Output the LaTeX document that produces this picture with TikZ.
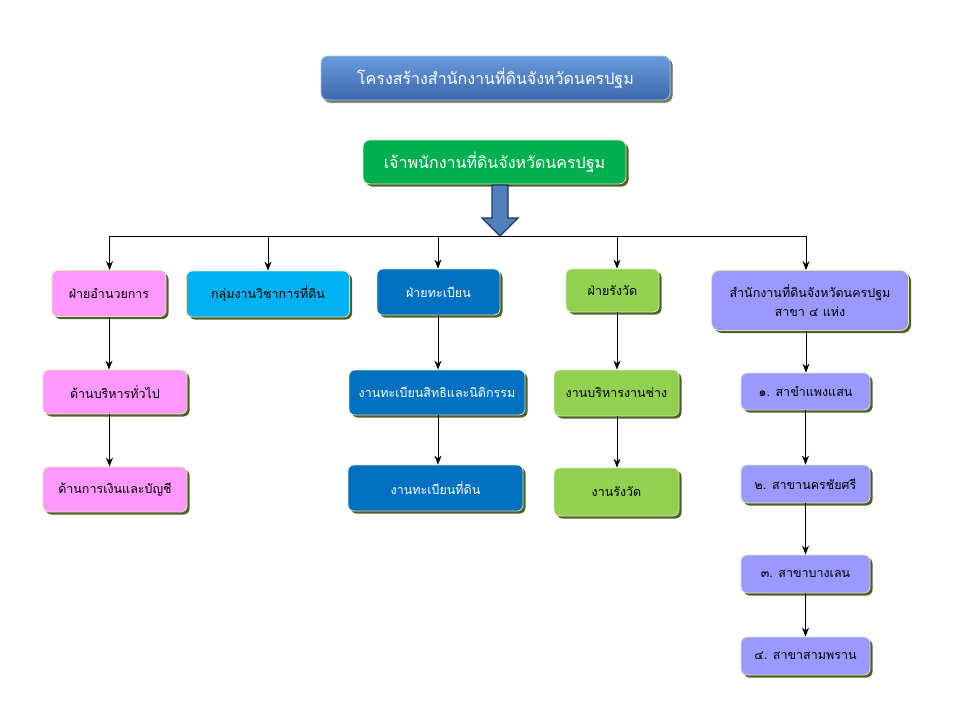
\documentclass[tikz,border=0pt]{standalone}
\usepackage{fontspec}
\usepackage{tikz}
\usetikzlibrary{arrows.meta, positioning, shadows}
\newfontfamily\thaifont[Script=Thai]{Loma}

\definecolor{titletop}{HTML}{6A9BDB}
\definecolor{titlebot}{HTML}{3A69AD}
\definecolor{headgreen}{HTML}{00B050}
\definecolor{pinkbox}{HTML}{FF99FF}
\definecolor{cyanbox}{HTML}{00B0F0}
\definecolor{bluebox}{HTML}{0070C0}
\definecolor{limebox}{HTML}{92D050}
\definecolor{lavbox}{HTML}{9999FF}
\definecolor{boxedge}{HTML}{D8E4BC}
\definecolor{shadowolive}{HTML}{4F6228}
\definecolor{arrowblue}{HTML}{4F81BD}
\definecolor{arrowedge}{HTML}{1F3A60}

\tikzset{
	box/.style={draw=boxedge, line width=0.8pt, rounded corners=6pt,
		align=center, inner sep=2pt,
		font=\thaifont\fontsize{12.5}{19}\selectfont,
		drop shadow={fill=shadowolive, shadow xshift=2.5pt, shadow yshift=-2.5pt, opacity=1}},
	headbox/.style={box, rounded corners=7pt, text=white,
		font=\thaifont\fontsize{16}{20}\selectfont},
	link/.style={->, >={Stealth[length=9pt, width=7pt]}, line width=1pt, black}
}

\begin{document}
\begin{tikzpicture}[x=1pt, y=-1pt]
	\useasboundingbox[fill=white] (0,0) rectangle (960,720);
	% heading
	\node at (495.5,78) (title) [headbox, minimum width=349pt, minimum height=44pt,
		top color=titletop, bottom color=titlebot, draw=titletop!60!white,
		drop shadow={fill=black!45, shadow xshift=2pt, shadow yshift=-3pt, opacity=0.6}] {โครงสร้างสำนักงานที่ดินจังหวัดนครปฐม};
	\node at (494.5,162) (chief) [headbox, fill=headgreen, minimum width=263pt, minimum height=44pt] {เจ้าพนักงานที่ดินจังหวัดนครปฐม};
	% first row
	\node at (109,293.5) (admin) [box, fill=pinkbox, minimum width=114pt, minimum height=46pt] {ฝ่ายอำนวยการ};
	\node at (268,294) (tech) [box, fill=cyanbox, minimum width=163pt, minimum height=46pt] {กลุ่มงานวิชาการที่ดิน};
	\node at (438.5,292) (reg) [box, fill=bluebox, text=white, minimum width=123pt, minimum height=46pt] {ฝ่ายทะเบียน};
	\node at (612.5,290.5) (survey) [box, fill=limebox, minimum width=93pt, minimum height=43pt] {ฝ่ายรังวัด};
	\node at (810,300.5) (branch) [box, fill=lavbox, rounded corners=8pt, minimum width=197pt, minimum height=60pt] {สำนักงานที่ดินจังหวัดนครปฐม\\สาขา ๔ แห่ง};
	% second and third rows
	\node at (115,392) (general) [box, fill=pinkbox, minimum width=144pt, minimum height=44pt] {ด้านบริหารทั่วไป};
	\node at (115,489.5) (finance) [box, fill=pinkbox, minimum width=144pt, minimum height=45pt] {ด้านการเงินและบัญชี};
	\node at (437,392.5) (rights) [box, fill=bluebox, text=white, minimum width=176pt, minimum height=45pt] {งานทะเบียนสิทธิและนิติกรรม};
	\node at (435.5,488) (land) [box, fill=bluebox, text=white, minimum width=175pt, minimum height=46pt] {งานทะเบียนที่ดิน};
	\node at (616.5,393) (tools) [box, fill=limebox, minimum width=125pt, minimum height=46pt] {งานบริหารงานช่าง};
	\node at (616.5,492) (measure) [box, fill=limebox, minimum width=125pt, minimum height=48pt] {งานรังวัด};
	% branches
	\node at (805.5,391.5) (br1) [box, fill=lavbox, minimum width=129pt, minimum height=37pt] {๑. สาขำแพงแสน};
	\node at (805.5,484) (br2) [box, fill=lavbox, minimum width=129pt, minimum height=38pt] {๒. สาขานครชัยศรี};
	\node at (805.5,574) (br3) [box, fill=lavbox, minimum width=129pt, minimum height=38pt] {๓. สาขาบางเลน};
	\node at (805.5,656) (br4) [box, fill=lavbox, minimum width=129pt, minimum height=38pt] {๔. สาขาสามพราน};
	% big arrow and bus
	\coordinate (bus) at (500,236);
	\coordinate (j1) at (109.5,236);
	\coordinate (j2) at (268,236);
	\coordinate (j3) at (438,236);
	\coordinate (j4) at (617,236);
	\coordinate (j5) at (806,236);
	\draw[fill=arrowblue, draw=arrowedge, line width=1.3pt, line join=miter]
		(492,185) -- (508,185) -- (508,218) -- (518,218)
		-- (bus) -- (482,218) -- (492,218) -- cycle;
	\draw[line width=1pt] (j1) -- (j5);
	\draw[link] (j1) -- (j1 |- admin.north);
	\draw[link] (j2) -- (j2 |- tech.north);
	\draw[link] (j3) -- (j3 |- reg.north);
	\draw[link] (j4) -- (j4 |- survey.north);
	\draw[link] (j5) -- (j5 |- branch.north);
	\draw[link] (admin.south) -- (admin.south |- general.north);
	\draw[link] (j1 |- general.south) -- (j1 |- finance.north);
	\draw[link] (j3 |- reg.south) -- (j3 |- rights.north);
	\draw[link] (j3 |- rights.south) -- (j3 |- land.north);
	\draw[link] (j4 |- survey.south) -- (j4 |- tools.north);
	\draw[link] (j4 |- tools.south) -- (j4 |- measure.north);
	\draw[link] (j5 |- branch.south) -- (j5 |- br1.north);
	\draw[link] (br1) -- (br2);
	\draw[link] (br2) -- (br3);
	\draw[link] (br3) -- (br4);
\end{tikzpicture}
\end{document}
